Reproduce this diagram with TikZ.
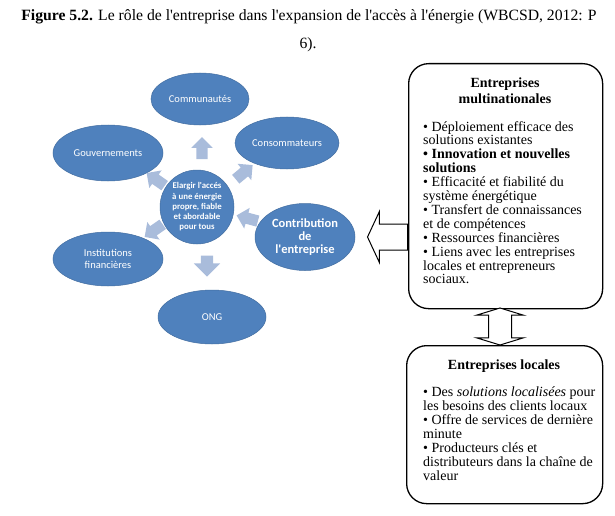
\documentclass[tikz,border=0pt]{standalone}
\usepackage{fontspec}
\setmainfont{Liberation Serif}[Ligatures=TeXOff]
\newfontfamily\calfont{Carlito}
\usetikzlibrary{shapes.geometric,shapes.arrows}
\definecolor{oblue}{HTML}{4F81BD}
\definecolor{lblue}{HTML}{A9BCDB}
\begin{document}
\begin{tikzpicture}[x=1pt,y=1pt,
  bub/.style={ellipse, fill=oblue, draw=oblue!85!black, line width=0.5pt, inner sep=0pt, text=white,
    font=\calfont\fontsize{10.5}{12.5}\selectfont, align=center},
  barr/.style={single arrow, fill=lblue, draw=none, inner xsep=0pt, inner ysep=5.5pt, minimum height=22,
    single arrow head extend=5, single arrow tip angle=90},
  rbox/.style={draw=black, line width=1.3pt, rounded corners=20pt, fill=white},
  boxtitle/.style={inner sep=0pt, align=center, font=\bfseries\fontsize{14}{15.5}\selectfont},
  boxbody/.style={inner sep=0pt, align=left, font=\fontsize{14}{13.9}\selectfont},
]
\useasboundingbox (0,0) rectangle (615,-516);

% title
\node[inner sep=0pt, font=\fontsize{15.7}{17}\selectfont] (title) at (309,-17)
  {\textbf{Figure 5.2.} Le rôle de l'entreprise dans l'expansion de l'accès à l'énergie (WBCSD, 2012: P};
\node[inner sep=0pt, font=\fontsize{15.7}{17}\selectfont] (title2) at (308,-45) {6).};

% ellipses
\node[bub, minimum width=98, minimum height=52] (comm) at (200,-99) {Communautés};
\node[bub, minimum width=104, minimum height=52] (cons) at (287,-143) {Consommateurs};
\node[bub, minimum width=110, minimum height=56] (gouv) at (108,-153) {Gouvernements};
\node[bub, minimum width=100, minimum height=67, font=\calfont\bfseries\fontsize{12.5}{13}\selectfont] (contrib) at (305,-237) {Contribution\\de\\l'entreprise};
\node[bub, minimum width=110, minimum height=54] (inst) at (108,-259) {Institutions\\financières};
\node[bub, minimum width=108, minimum height=54] (ong) at (212,-317) {ONG};
\node[circle, fill=oblue, draw=oblue!85!black, line width=0.5pt, inner sep=0pt, minimum size=74, text=white, align=center,
  font=\calfont\bfseries\fontsize{8.8}{10.2}\selectfont] (centre) at (197,-207)
  {Elargir l'accés\\à une énergie\\propre, fiable\\et abordable\\pour tous};

% block arrows
\node[barr, rotate=90] (a1) at (202,-151) {};
\node[barr, rotate=40] (a2) at (242,-174) {};
\node[barr, rotate=145] (a3) at (158,-181) {};
\node[barr, rotate=165] (a4) at (250,-219) {};
\node[barr, rotate=215] (a5) at (156,-229) {};
\node[barr, rotate=270, single arrow head extend=7, minimum height=21, inner ysep=6pt] (a6) at (207,-263) {};

% boxes
\node[rbox, minimum width=194, minimum height=245, anchor=north west] (mn) at (408,-63) {};
\node[boxtitle, anchor=north] (mnt) at (505,-78) {Entreprises\\multinationales};
\node[boxbody, anchor=north west] (mnb) at (423,-121)
  {• Déploiement efficace des\\solutions existantes\\\textbf{• Innovation et nouvelles}\\\textbf{solutions}\\• Efficacité et fiabilité du\\système énergétique\\• Transfert de connaissances\\et de compétences\\• Ressources financières\\• Liens avec les entreprises\\locales et entrepreneurs\\sociaux.};

\node[rbox, minimum width=196, minimum height=158, anchor=north west] (loc) at (406,-345) {};
\node[boxtitle, anchor=north] (loct) at (504,-360) {Entreprises locales};
\node[boxbody, anchor=north west] (locb) at (423,-387)
  {• Des \textit{solutions localisées} pour\\les besoins des clients locaux\\• Offre de services de dernière\\minute\\• Producteurs clés et\\distributeurs dans la chaîne de\\valeur};

% outline arrows
\node[single arrow, draw=black, fill=white, line width=1pt, inner xsep=0pt, inner ysep=12.5pt, minimum height=40,
  single arrow head extend=12.5, single arrow tip angle=130, rotate=180, anchor=tail] (larr) at (mn.west |- contrib) {};
\node[double arrow, draw=black, fill=white, line width=1pt, inner xsep=0pt, inner ysep=11pt, minimum height=37,
  double arrow head extend=12, double arrow tip angle=146, rotate=90] (darr) at (500,-326.5) {};
\end{tikzpicture}
\end{document}
